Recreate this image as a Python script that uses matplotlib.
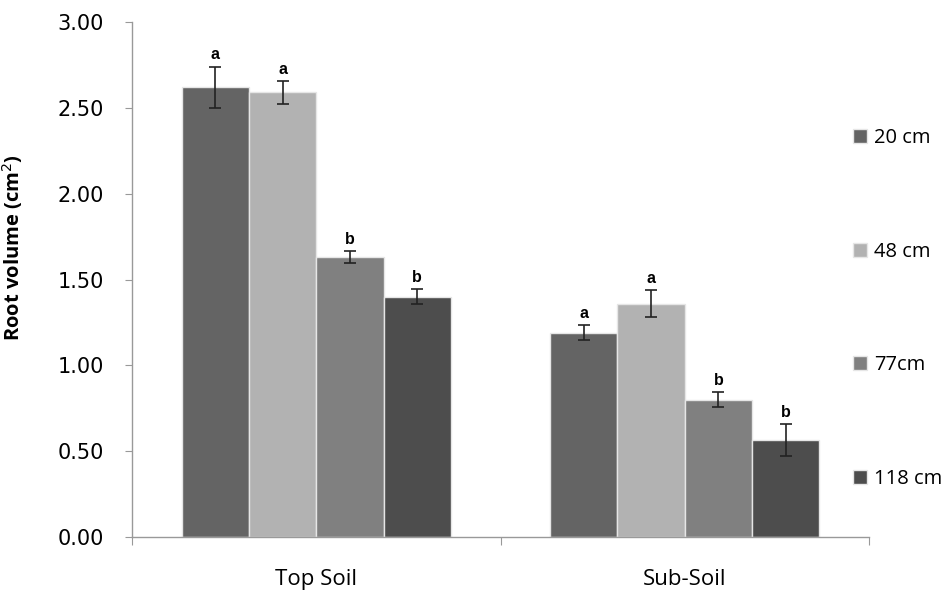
import matplotlib
matplotlib.use('Agg')
import matplotlib.pyplot as plt
import numpy as np

# ------------------------------------------------------------------------- DATA
groups = ['Top Soil', 'Sub-Soil']
depths = ['20 cm', '48 cm', '77cm', '118 cm']
volume = [[2.62, 1.19],
          [2.59, 1.36],
          [1.63, 0.80],
          [1.40, 0.565]]
errors = [[0.12, 0.045],
          [0.065, 0.08],
          [0.035, 0.045],
          [0.045, 0.095]]
letters = [['a', 'a'],
           ['a', 'a'],
           ['b', 'b'],
           ['b', 'b']]
yticks = [0.0, 0.5, 1.0, 1.5, 2.0, 2.5, 3.0]

colors = ['#646464', '#b2b2b2', '#808080', '#4d4d4d']

# ------------------------------------------------------------------------ FIGURE
fig = plt.figure(figsize=(9.51, 5.95), dpi=100)
ax = fig.add_axes([132/951, 1-537/595, (869-132)/951, (537-22)/595])

x = np.arange(len(groups))
w = 0.73/len(depths)
handles = []
for i in range(len(depths)):
	pos = x + (i - 1.5)*w
	b = ax.bar(pos, volume[i], w, color=colors[i], edgecolor='#e6e6e6',
	           linewidth=1.0, label=depths[i], zorder=2)
	handles.append(b)
	ax.errorbar(pos, volume[i], yerr=errors[i], fmt='none', ecolor='#222222',
	            elinewidth=1.2, capsize=4, capthick=1.2, zorder=3)
	for j in range(len(groups)):
		ax.annotate(letters[i][j], (pos[j], volume[i][j] + errors[i][j]),
		            xytext=(0, 3), textcoords='offset points', ha='center',
		            va='bottom', fontsize=11.5, fontweight='bold',
		            family='Liberation Sans')

ax.set_xlim(-0.5, 1.5)
ax.set_ylim(0, 3.0)
ax.set_yticks(yticks)
ax.set_yticklabels(['%.2f' % t for t in yticks], fontsize=15, family='DejaVu Sans')
ax.set_xticks([-0.5, 0.5, 1.5])
ax.set_xticklabels([])
ax.set_xticks(x, minor=True)
ax.set_xticklabels(groups, minor=True, fontsize=16, family='Open Sans')
ax.tick_params(axis='x', which='minor', length=0, pad=23)
ax.tick_params(axis='x', which='major', length=6, color='#999999', direction='out')
ax.tick_params(axis='y', length=5, color='#999999', direction='out', pad=15)

for s in ['top', 'right']:
	ax.spines[s].set_visible(False)
for s in ['left', 'bottom']:
	ax.spines[s].set_color('#999999')
	ax.spines[s].set_linewidth(1.0)

ax.set_ylabel('Root volume (cm$^2$)', fontsize=14.5, fontweight='bold',
              family='Open Sans')
ax.yaxis.set_label_coords(-0.145, 0.563)

fig.legend(handles=handles, labels=depths, loc='upper left',
           bbox_to_anchor=(853/951, 1-128/595), frameon=False,
           prop={'family': 'Open Sans', 'size': 14.5}, handlelength=0.7,
           handleheight=0.7, handletextpad=0.35, labelspacing=4.65,
           borderaxespad=0, borderpad=0)

fig.savefig('out.png', dpi=100)
